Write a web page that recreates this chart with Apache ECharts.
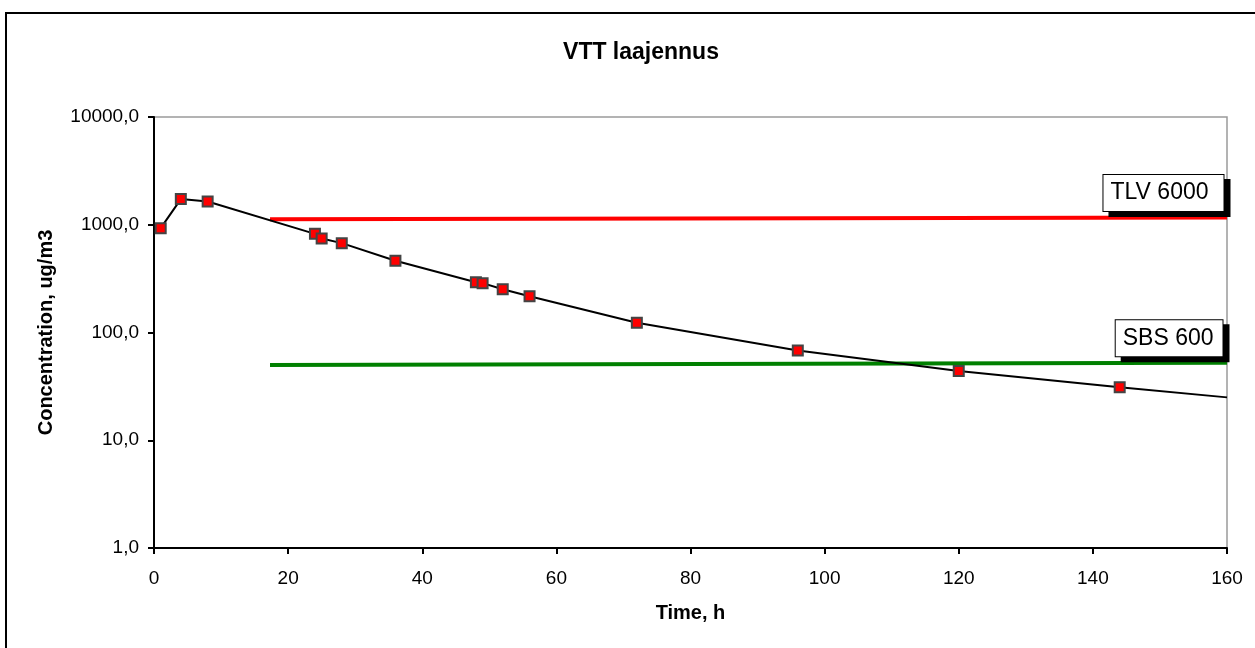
<!DOCTYPE html>
<html>
<head>
<meta charset="utf-8">
<script src="https://cdn.jsdelivr.net/npm/echarts@6/dist/echarts.min.js"></script>
<style>
  html, body { margin: 0; padding: 0; background: #fff; overflow: hidden; }
  #chart { width: 1255px; height: 648px; }
</style>
</head>
<body>
<div id="chart"></div>
<script>
// measured concentrations
const timeH = [1, 4, 8, 24, 25, 28, 36, 48, 49, 52, 56, 72, 96, 120, 144]
const concentration = [930, 1730, 1645, 823, 745, 675, 464, 293, 287, 252, 217, 123, 68, 44, 31]

// trend continuation past the last sample
const trendTime = [144, 160]
const trendConc = [31, 25]

// reference levels
const tlvTime = [17.3, 160]
const tlvConc = [1127, 1167]
const sbsTime = [17.3, 160]
const sbsConc = [50, 52.4]

const xTicks = { min: 0, max: 160, interval: 20 }
const yTicks = { min: 1, max: 10000 }

const FONT = '"Liberation Sans", Arial, sans-serif'
const GRID = { left: 154, right: 28, top: 117, bottom: 100 }
const plotHeight = 648 - GRID.top - GRID.bottom

const pairs = (xs, ys) => xs.map((x, i) => [x, ys[i]])

const boxLabel = (text, pos, padding) => ({
  show: true,
  formatter: text,
  position: pos,
  align: 'right',
  verticalAlign: 'bottom',
  fontFamily: FONT,
  fontSize: 23,
  lineHeight: 26,
  color: '#000',
  backgroundColor: '#fff',
  borderColor: '#000',
  borderWidth: 1,
  padding,
  shadowColor: '#000',
  shadowBlur: 0,
  shadowOffsetX: 6,
  shadowOffsetY: 5,
})

const levelData = (xs, ys, label) => {
  const data = pairs(xs, ys).map((p) => ({ value: p, symbol: 'none' }))
  const last = data[data.length - 1]
  last.symbol = 'rect'
  last.symbolSize = 1
  last.itemStyle = { color: 'rgba(0,0,0,0)', borderWidth: 0 }
  last.label = label
  return data
}

const chart = echarts.init(document.getElementById('chart'), null, { renderer: 'canvas' })

chart.setOption({
  animation: false,
  backgroundColor: '#fff',
  title: {
    text: 'VTT laajennus',
    left: 636,
    top: 36,
    textAlign: 'center',
    textStyle: { fontFamily: FONT, fontSize: 23, fontWeight: 'bold', color: '#000' },
  },
  graphic: [
    {
      type: 'rect',
      silent: true,
      shape: { x: 6, y: 13, width: 1400, height: 800 },
      style: { fill: 'none', stroke: '#000', lineWidth: 2 },
    },
  ],
  grid: {
    ...GRID,
    show: true,
    borderColor: '#9a9a9a',
    borderWidth: 1.5,
    backgroundColor: '#fff',
  },
  xAxis: [
    {
      type: 'value',
      ...xTicks,
      name: 'Time, h',
      nameLocation: 'middle',
      nameGap: 55,
      nameTextStyle: { fontFamily: FONT, fontSize: 20, fontWeight: 'bold', color: '#000' },
      axisLine: { show: true, lineStyle: { color: '#000', width: 2 } },
      axisTick: { show: true, length: 6, lineStyle: { color: '#000', width: 2 } },
      axisLabel: { fontFamily: FONT, fontSize: 19, color: '#000', margin: 21 },
      splitLine: { show: false },
    },
    {
      type: 'value',
      ...xTicks,
      position: 'top',
      offset: -plotHeight,
      axisLine: { show: false },
      axisTick: { show: true, inside: true, length: 6, lineStyle: { color: '#000', width: 2 } },
      axisLabel: { show: false },
      splitLine: { show: false },
    },
  ],
  yAxis: {
    type: 'log',
    logBase: 10,
    ...yTicks,
    name: 'Concentration, ug/m3',
    nameLocation: 'middle',
    nameGap: 98,
    nameTextStyle: { fontFamily: FONT, fontSize: 20, fontWeight: 'bold', color: '#000' },
    axisLine: { show: true, lineStyle: { color: '#000', width: 2 } },
    axisTick: { show: true, length: 6, lineStyle: { color: '#000', width: 2 } },
    minorTick: { show: false },
    axisLabel: {
      fontFamily: FONT,
      fontSize: 19,
      color: '#000',
      margin: 15,
      formatter: (v) => v.toFixed(1).replace('.', ','),
    },
    splitLine: { show: false },
  },
  series: [
    {
      name: 'TLV 6000',
      type: 'line',
      data: levelData(tlvTime, tlvConc, boxLabel('TLV 6000', [-3, -6], [5, 15, 5, 7])),
      showSymbol: true,
      lineStyle: { color: '#ff0000', width: 4 },
      z: 2,
    },
    {
      name: 'SBS 600',
      type: 'line',
      data: levelData(sbsTime, sbsConc, boxLabel('SBS 600', [-4, -6], [5, 9, 5, 7])),
      showSymbol: true,
      lineStyle: { color: '#008000', width: 4 },
      z: 2,
    },
    {
      name: 'trend',
      type: 'line',
      data: pairs(trendTime, trendConc),
      symbol: 'none',
      lineStyle: { color: '#000', width: 2 },
      z: 3,
    },
    {
      name: 'measured',
      type: 'line',
      data: pairs(timeH, concentration),
      symbol: 'rect',
      symbolSize: 10,
      lineStyle: { color: '#000', width: 2 },
      itemStyle: { color: '#ff0000', borderColor: '#444', borderWidth: 2 },
      z: 4,
    },
  ],
})
</script>
</body>
</html>
